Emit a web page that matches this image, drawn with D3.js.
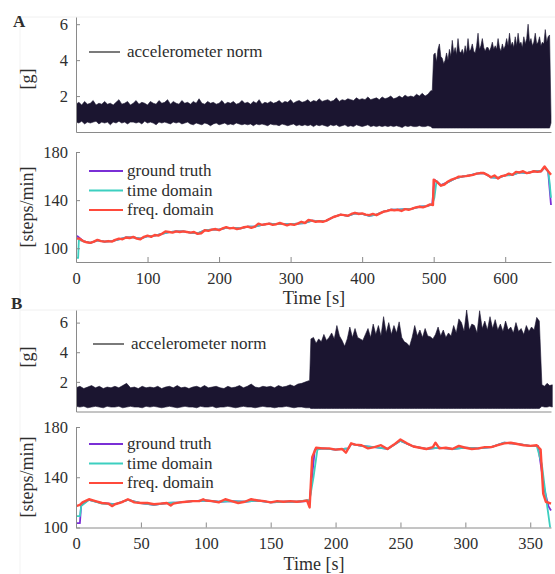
<!DOCTYPE html>
<html>
<head>
<meta charset="utf-8">
<script src="https://cdn.jsdelivr.net/npm/d3@7"></script>
<style>
  body { margin: 0; background: #fff; }
  svg text { font-family: "Liberation Serif", "Times New Roman", "DejaVu Serif", serif; fill: #2e2e2e; }
</style>
</head>
<body>
<svg id="svg" width="555" height="574"></svg>
<script>
// ---- data ----
// panel A, accelerometer norm envelope [g]: walking phase (every 4 s from 0 s), running phase (every 2 s from 498 s)
var accABaseHigh = [1.55,1.65,1.5,1.7,1.55,1.6,1.75,1.5,1.6,1.55, 1.7,1.55,1.6,1.5,1.65,1.8,1.55,1.6,1.7,1.5,
  1.6,1.75,1.55,1.65,1.6,1.5,1.7,1.6,1.55,1.75, 1.6,1.65,1.8,1.55,1.7,1.6,1.55,1.75,1.6,1.65,
  1.55,1.7,1.6,1.85,1.6,1.55,1.7,1.6,1.65,1.55, 1.6,1.75,1.55,1.65,1.6,1.7,1.55,1.6,1.75,1.6,
  1.65,1.55,1.7,1.6,1.8,1.55,1.65,1.6,1.7,1.6, 1.65,1.75,1.6,1.7,1.65,1.8,1.6,1.7,1.75,1.65,
  1.7,1.8,1.65,1.75,1.7,1.85,1.7,1.75,1.8,1.7, 1.75,1.9,1.7,1.8,1.75,1.85,1.8,1.75,1.9,1.8,
  1.85,1.8,1.95,1.8,1.85,1.9,1.8,1.95,1.85,1.9, 2.0,1.85,1.9,2.0,1.9,2.05,1.95,2.0,1.95,2.1, 2.0,2.15,2.0,2.1,2.3];
var accABaseLow = [0.55,0.5,0.6,0.45,0.55,0.5,0.55,0.6,0.45,0.55, 0.5,0.55,0.4,0.55,0.5,0.6,0.5,0.55,0.45,0.55,
  0.55,0.5,0.55,0.45,0.6,0.5,0.55,0.5,0.4,0.55, 0.5,0.55,0.5,0.45,0.55,0.5,0.55,0.45,0.5,0.55,
  0.45,0.4,0.5,0.45,0.4,0.5,0.45,0.35,0.45,0.5, 0.4,0.45,0.5,0.4,0.45,0.4,0.5,0.45,0.4,0.45,
  0.4,0.45,0.35,0.45,0.4,0.45,0.4,0.35,0.45,0.4, 0.4,0.35,0.45,0.4,0.35,0.4,0.45,0.35,0.4,0.35,
  0.4,0.35,0.4,0.3,0.4,0.35,0.4,0.35,0.3,0.4, 0.35,0.4,0.3,0.35,0.4,0.3,0.35,0.3,0.4,0.35,
  0.3,0.35,0.4,0.3,0.35,0.3,0.35,0.3,0.35,0.3, 0.35,0.3,0.35,0.3,0.25,0.35,0.3,0.35,0.3,0.3, 0.35,0.3,0.3,0.35,0.3];
var accARunHigh = [2.3,4.3,4.4,3.9,4.6,4.9,4.2,4.1,3.8,4.0, 4.4,4.0,4.6,4.2,5.1,4.4,4.7,4.3,5.2,4.5,
  4.4,4.6,4.3,4.8,4.4,5.2,4.5,4.6,4.9,4.5, 4.4,4.8,5.5,4.6,4.8,5.2,4.7,4.5,4.7,4.7,
  4.5,4.7,5.0,4.6,4.8,4.6,5.2,4.7,4.5,4.9, 4.6,4.8,5.2,4.8,5.5,4.8,5.0,4.7,5.3,4.8,
  5.5,4.9,5.0,4.7,5.3,4.9,5.2,6.0,5.0,5.2, 4.8,5.0,5.5,4.9,5.0,5.3,4.8,5.0,4.9,5.7, 5.0,5.3,5.4];
var accARunLow = 0.22;

// panel B, accelerometer norm envelope [g]: walking (every 3 s from 0 s), running (every 2 s from 181 s), walking again (every 2 s from 359 s)
var accBBaseHigh = [1.6,1.7,1.55,1.65,1.75,1.6,1.7,1.55,1.65,1.6, 1.7,1.6,1.75,1.9,1.6,1.65,1.55,1.7,1.6,1.65,
  1.6,1.7,1.55,1.65,1.7,1.6,1.75,1.6,1.65,1.55, 1.65,1.7,1.6,1.75,1.6,1.65,1.7,1.6,1.55,1.7,
  1.6,1.65,1.75,1.6,1.7,1.85,1.65,1.6,1.7,1.65, 1.7,1.6,1.75,1.65,1.7,1.8,1.7,1.85,1.9,2.0,2.1];
var accBBaseLow = [0.35,0.3,0.35,0.25,0.3,0.35,0.3,0.25,0.35,0.3, 0.3,0.35,0.25,0.3,0.35,0.3,0.3,0.25,0.35,0.3,
  0.35,0.3,0.25,0.3,0.35,0.3,0.25,0.3,0.35,0.3, 0.3,0.25,0.35,0.3,0.3,0.35,0.25,0.3,0.3,0.35,
  0.3,0.25,0.3,0.35,0.3,0.3,0.25,0.3,0.35,0.3, 0.3,0.25,0.3,0.3,0.35,0.3,0.25,0.3,0.3,0.25,0.25];
var accBRunHigh = [4.9,5.0,4.6,4.9,4.7,5.2,4.8,5.0,5.3,4.9, 5.8,5.1,4.8,4.4,4.9,5.7,5.0,5.6,5.0,4.9,
  4.8,5.2,5.6,5.0,5.9,5.2,5.8,5.1,6.4,5.3, 6.0,5.2,5.8,5.3,6.05,5.0,4.7,4.6,4.4,5.0,
  5.8,5.1,5.5,5.0,5.6,5.1,5.05,4.9,5.2,5.7, 5.1,5.5,5.0,5.3,5.1,5.8,5.3,6.25,6.0,5.4,
  6.85,5.5,5.9,5.8,5.3,6.8,5.6,6.1,5.5,6.4, 5.6,6.2,5.5,5.9,5.4,6.1,5.5,5.7,5.3,6.0,
  5.4,5.6,5.2,5.8,5.4,5.7,5.5,6.35,6.1];
var accBRunLow = 0.2;
var accBEndHigh = [1.8,1.7,1.9,1.75,1.8];
var accBEndLow = [0.35,0.3,0.3,0.35,0.3];

// panel A, cadence [steps/min]
var stepATime = [0,5,10,15,20,25,30,35,40,45,50,55,60,65,70,75,80,85,90,95,100,105,110,115,120,125,130,135,140,145,150,155,160,165,170,175,180,185,190,195,200,205,210,215,220,225,230,235,240,245,250,255,260,265,270,275,280,285,290,295,300,305,310,315,320,325,330,335,340,345,350,355,360,365,370,375,380,385,390,395,400,405,410,415,420,425,430,435,440,445,450,455,460,465,470,475,480,485,490,495,499,500,505,510,515,520,525,530,535,540,545,550,555,560,565,570,575,580,585,590,595,600,605,610,615,620,625,630,635,640,645,650,655,660,664];
var freqA = [108,108,106,105,104.5,105.5,107,106,105.5,106,105.5,107,108,107.5,109,108.5,109.5,108,107.5,109.5,110.5,109.5,111,110.5,112,114,113.5,113,114,113.5,114,113.5,113,113.5,112,112.5,115,114.5,115.5,116,115,116.5,117.5,116.5,117,116,116.5,117.5,118,117,118,120.5,119.5,120,120.5,119.5,120,121,120,119,120,119.5,120.5,122,121,123.5,123,122,122.5,122,123,124.5,126,127,128,127.5,127,128.5,129.5,128.5,129,128,127.5,128.5,127.5,129,130.5,131,132,131.5,132,131,132.5,132,133,134,134.5,134,135,136.5,136,157,155,152,153,155.5,157,158,159.5,159.7,160,160.5,161,162,162.5,162.5,161,159,160.5,158,160,160.5,162,161,163.5,163,164,162.5,163,164,163.5,164,168,164,161];
var truthATime = [0,2,10,20,30,40,50,60,70,80,90,100,110,120,130,140,150,160,170,180,190,200,210,220,230,240,250,260,270,280,290,300,310,320,330,340,350,360,370,380,390,400,410,420,430,440,450,460,470,480,490,498,501,510,520,530,540,550,560,570,580,590,600,610,620,630,640,650,655,660,662,664];
var truthA = [109,110,106,104.5,106.5,105.5,106,107.5,109,109,108,110,110.5,112,113.5,114,114,113,112.5,115,115.5,115.5,117,117,116.5,118,118,119.5,120.5,120,120,120,120.5,121,123,122.5,123,126,128,127,129,128.5,127,128,130.5,132,132,132.5,133,134.5,135,136.5,157,152.5,155,158,159.5,160.5,162,162.5,159,158.5,160.5,161,163,162.5,164,164,167,164,150,136];
var timeATime = [0,3,4,10,20,30,40,50,60,70,80,90,100,110,120,130,140,150,160,170,180,190,200,210,220,230,240,250,260,270,280,290,300,310,320,330,340,350,360,370,380,390,400,410,420,430,440,450,460,470,480,490,498,501,504,510,520,530,540,550,560,570,580,590,600,610,620,630,640,650,655,660,662,664];
var timeA = [92,92,107,106,104.5,106.5,105.5,106,107.5,109,109,108,110,110.5,112,113.5,114,114,113,112.5,115,115.5,115.5,117,117,116.5,118,118,119.5,120.5,120,120,120,120.5,121,123,122.5,123,126,128,127,129,128.5,127,128,130.5,132,132,132.5,133,134.5,135,136.5,142,156,152,155,158,159.5,160.5,162,162.5,159,158.5,160.5,161,163,162.5,164,164,167,164,155,142];

// panel B, cadence [steps/min]
var stepBTime = [0,3,5,10,15,20,25,28,30,35,40,45,50,55,60,65,70,73,75,80,85,90,95,98,100,105,110,115,120,125,130,135,140,145,150,155,160,165,170,175,178,180,182,185,190,195,200,205,208,212,215,220,225,230,235,240,245,250,255,260,265,270,275,277,280,285,290,295,300,305,310,315,320,325,330,335,340,345,350,355,358,360,362,366];
var freqB = [117,118,120,122.5,121,119.5,119,117,118.5,120,122.5,120,119.5,119.5,118.5,119,119.5,117.5,119,120,120.5,121,121,122.5,121.5,121,120,122.5,121,119.5,120.5,122.5,121.5,121,120,121,120.5,121,120.5,121,121.5,116,156,163.5,163,163,162,162.5,159.5,167,166,165.5,163,164,165.5,162.5,166,170,167,164.5,163.5,162.5,164,167.5,163,163.5,162.5,165,163.5,162.5,163,164,164,165.5,167,167.5,166.5,165.5,165,165.5,162,127,120.5,119];
var truthBTime = [0,3,4,10,20,30,40,50,60,70,80,90,100,110,120,130,140,150,160,170,178,180,184,190,200,210,212,220,230,240,250,260,270,280,290,300,310,320,330,340,350,356,361,364,366];
var truthB = [103.5,103.5,118,122,119.5,118.5,122,119.5,118,119.5,120,121,121.5,120.5,121,120.5,121.5,120,120.5,120.5,121,121,162,163,162,163,166.5,165,164,162.5,169,164.5,162.5,163.5,162.5,163.5,163,164,167.5,166.5,165,165,130,117,113.5];
var timeBTime = [0,3,4,10,20,30,40,50,60,70,80,90,100,110,120,130,140,150,160,170,180,183,186,190,200,210,212,220,230,240,250,260,270,280,290,300,310,320,330,340,350,355,359,362,364,366];
var timeB = [109,109,117,122,119,118.5,122,119.5,118,119.5,120,121,121.5,120.5,121,120.5,121.5,120,120.5,120.5,122,140,162,163,162,163,166.5,165,164,162.5,169,164.5,162.5,163.5,162.5,163.5,163,164,167.5,166.5,165,165,150,125,110,95];

var accTicks = [2,4,6];
var stepTicks = [100,140,180];
var timeTicksA = [0,100,200,300,400,500,600];
var timeTicksB = [0,50,100,150,200,250,300,350];
var legendNames = ["ground truth","time domain","freq. domain"];
var legendColors = ["#7a2fd6","#3ccfc0","#ff4a3b"];

// ---- drawing ----
var svg = d3.select("#svg");
var axisColor = "#8a8a8a";
var serif = "'Liberation Serif', 'Times New Roman', 'DejaVu Serif', serif";

// faint figure frame lines
svg.append("line").attr("x1",20).attr("y1",17).attr("x2",555).attr("y2",17).attr("stroke","#f0f0f0");
svg.append("line").attr("x1",20).attr("y1",310).attr("x2",555).attr("y2",310).attr("stroke","#f0f0f0");
svg.append("line").attr("x1",20).attr("y1",17).attr("x2",20).attr("y2",574).attr("stroke","#f3f3f3");

// join envelope segments into one table
function segment(rows, t0, step, hi, lo) {
  hi.forEach(function(h, i) {
    rows.push({t: t0 + i * step, hi: h, lo: Array.isArray(lo) ? lo[i] : lo});
  });
  return rows;
}
var accA = segment([], 0, 4, accABaseHigh, accABaseLow);
segment(accA, 498, 2, accARunHigh, accARunLow);
accA.push({t: 664, hi: 0.9, lo: 0.5});
var accB = segment([], 0, 3, accBBaseHigh, accBBaseLow);
segment(accB, 181, 2, accBRunHigh, accBRunLow);
segment(accB, 359, 2, accBEndHigh, accBEndLow);

var clipN = 0;
function makeClip(x, y) {
  var id = "clip" + (clipN++);
  svg.append("clipPath").attr("id", id).append("rect")
    .attr("x", x.range()[0]).attr("y", y.range()[1] - 2)
    .attr("width", x.range()[1] - x.range()[0] + 2)
    .attr("height", y.range()[0] - y.range()[1] + 2);
  return "url(#" + id + ")";
}

function drawAxes(x, y, yTicks, xTicks) {
  var gy = svg.append("g").attr("transform", "translate(" + x.range()[0] + ",0)")
    .call(d3.axisLeft(y).tickValues(yTicks).tickFormat(d3.format("d")).tickSizeInner(-4).tickSizeOuter(0).tickPadding(8));
  var gx = svg.append("g").attr("transform", "translate(0," + y.range()[0] + ")")
    .call(d3.axisBottom(x).tickValues(xTicks || []).tickFormat(d3.format("d")).tickSizeInner(-5).tickSizeOuter(0).tickPadding(10));
  [gy, gx].forEach(function(g) {
    g.attr("font-family", null).attr("font-size", null);
    g.select(".domain").attr("stroke", axisColor);
    g.selectAll(".tick line").attr("stroke", axisColor);
    g.selectAll(".tick text").style("font-family", serif).style("font-size", "16.5px").attr("fill", "#333");
  });
}

function accPanel(rows, x, y, legendX, legendY) {
  var clip = makeClip(x, y);
  var area = d3.area().x(function(d) { return x(d.t); })
    .y0(function(d) { return y(d.lo); })
    .y1(function(d) { return y(d.hi); });
  svg.append("path").datum(rows).attr("d", area).attr("clip-path", clip)
    .attr("fill", "#1b1530").attr("stroke", "#1b1530").attr("stroke-width", 0.6);
  drawAxes(x, y, accTicks, null);
  svg.append("line").attr("x1", legendX).attr("x2", legendX + 31).attr("y1", legendY).attr("y2", legendY)
    .attr("stroke", "#222").attr("stroke-width", 1.2);
  svg.append("text").attr("x", legendX + 38).attr("y", legendY + 5).style("font-size", "17px").text("accelerometer norm");
}

function stepPanel(series, x, y, xTicks, legendY) {
  var clip = makeClip(x, y);
  series.forEach(function(s, k) {
    var line = d3.line().x(function(d, i) { return x(s.t[i]); }).y(function(d) { return y(d); });
    svg.append("path").datum(s.v).attr("d", line).attr("clip-path", clip)
      .attr("fill", "none").attr("stroke", legendColors[k]).attr("stroke-width", k == 2 ? 2.4 : 1.8)
      .attr("stroke-linejoin", "round");
  });
  drawAxes(x, y, stepTicks, xTicks);
  legendNames.forEach(function(n, k) {
    var ly = legendY + k * 19.5;
    svg.append("line").attr("x1", 89).attr("x2", 123).attr("y1", ly).attr("y2", ly)
      .attr("stroke", legendColors[k]).attr("stroke-width", 2);
    svg.append("text").attr("x", 127).attr("y", ly + 5).style("font-size", "17px").text(n);
  });
}

function yLabel(txt, cy) {
  svg.append("text").attr("transform", "translate(33," + cy + ") rotate(-90)")
    .attr("text-anchor", "middle").style("font-size", "18px").text(txt);
}

// panel A
var xA = d3.scaleLinear().domain([0, 664]).range([76, 551]);
var yA1 = d3.scaleLinear().domain([0, 6.4]).range([132, 17]);
var yA2 = d3.scaleLinear().domain([88.6, 180]).range([262, 152]);
accPanel(accA, xA, yA1, 89, 52);
stepPanel([{t: truthATime, v: truthA}, {t: timeATime, v: timeA}, {t: stepATime, v: freqA}], xA, yA2, timeTicksA, 171);

// panel B
var xB = d3.scaleLinear().domain([0, 366]).range([76, 551]);
var yB1 = d3.scaleLinear().domain([0, 6.85]).range([411.5, 310]);
var yB2 = d3.scaleLinear().domain([100, 180]).range([527.5, 427]);
accPanel(accB, xB, yB1, 93, 344);
stepPanel([{t: truthBTime, v: truthB}, {t: timeBTime, v: timeB}, {t: stepBTime, v: freqB}], xB, yB2, timeTicksB, 444);

yLabel("[g]", 79);
yLabel("[steps/min]", 207);
yLabel("[g]", 357);
yLabel("[steps/min]", 477);

svg.append("text").attr("x", 314).attr("y", 304).attr("text-anchor", "middle").style("font-size", "18.5px").text("Time [s]");
svg.append("text").attr("x", 314).attr("y", 570).attr("text-anchor", "middle").style("font-size", "18px").text("Time [s]");

svg.append("text").attr("x", 13).attr("y", 27).style("font-size", "17px").style("font-weight", "bold").text("A");
svg.append("text").attr("x", 11).attr("y", 309).style("font-size", "17px").style("font-weight", "bold").text("B");
</script>
</body>
</html>
